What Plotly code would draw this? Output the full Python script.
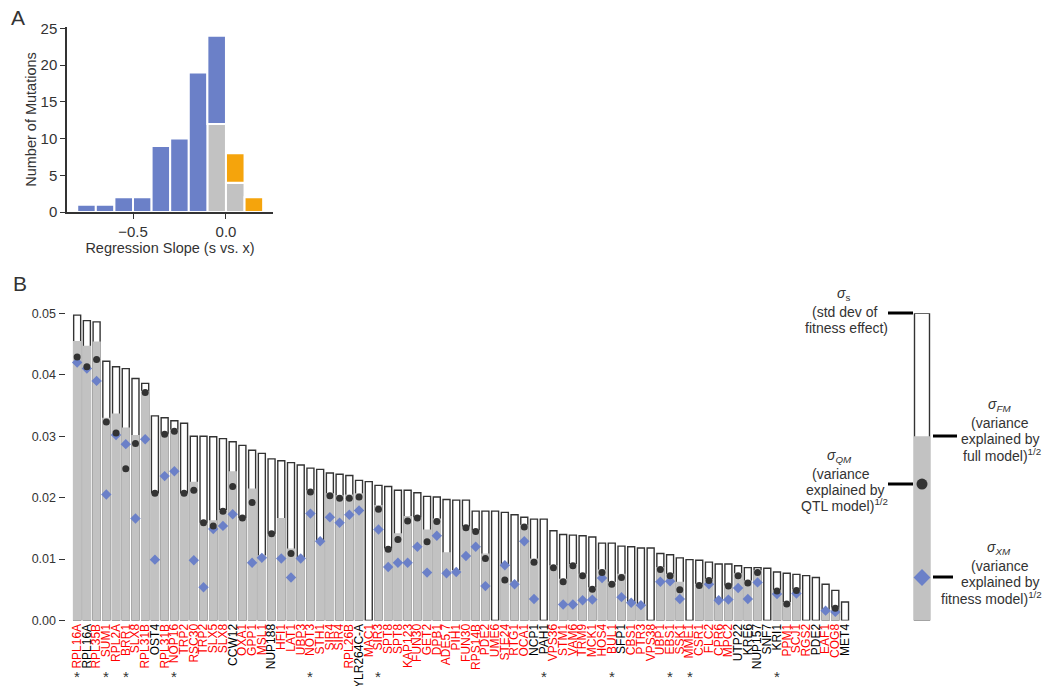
import plotly.graph_objects as go

# ---------------- Panel A data: histogram of regression slopes
slope_bins = [-0.75, -0.65, -0.55, -0.45, -0.35, -0.25, -0.15, -0.05, 0.05, 0.15]
count_blue = [1, 1, 2, 2, 9, 10, 19, 12, 0, 0]
count_gray = [0, 0, 0, 0, 0, 0, 0, 12, 4, 0]
count_orange = [0, 0, 0, 0, 0, 0, 0, 0, 4, 2]

# ---------------- Panel B data: per-mutation variance decomposition
genes = ["RPL16A", "RPL16A", "RPL35B", "SUM1", "RPL2A", "BRR1", "SLX8", "RPL31B", "OST4", "RPL31B",
         "NOP16", "TRP2", "RSC30", "TRP2", "SLX5", "SLX8", "CCW12", "OXA1", "GPP1", "MSL1",
         "NUP188", "HFI1", "LAT1", "UBP3", "NOT3", "STH1", "SIR4", "SIR4", "RPL26B", "YLR264C-A",
         "MAC1", "SIR3", "SPT8", "SPT8", "KAP123", "FUN30", "GET2", "DPB1", "ADE5,7", "PIH1",
         "FUN30", "RPS14B", "PDE2", "UME6", "STE24", "RTG1", "OCA1", "NCP1", "PAH1", "VPS36",
         "STM1", "VAM6", "TRM9", "MCK1", "HOS4", "BUL1", "SFP1", "CBS1", "PTR3", "VPS38",
         "UBP1", "EBS1", "SSK1", "MME1", "CSR1", "FLC2", "CPR6", "MPC2", "UTP22", "KRE6",
         "NUP157", "SNF7", "KRI1", "PPM1", "SCJ1", "RGS2", "PDE2", "EAF1", "COG8", "MET4"]
label_red = [1, 0, 1, 1, 1, 1, 1, 1, 0, 1,
             1, 1, 1, 1, 1, 1, 0, 1, 1, 1,
             0, 1, 1, 1, 1, 1, 1, 1, 1, 0,
             1, 1, 1, 1, 1, 1, 1, 1, 1, 1,
             1, 1, 1, 1, 1, 1, 1, 0, 0, 1,
             1, 1, 1, 1, 1, 1, 0, 1, 1, 1,
             1, 1, 1, 1, 1, 1, 1, 1, 0, 0,
             0, 0, 0, 1, 1, 1, 0, 1, 1, 0]
sigma_s = [.0497, .0488, .0486, .0422, .0413, .0410, .0394, .0386, .0333, .0330,
           .0325, .0321, .0300, .0300, .0299, .0296, .0291, .0285, .0277, .0272,
           .0263, .0260, .0257, .0253, .0248, .0246, .0240, .0238, .0236, .0228,
           .0226, .0220, .0218, .0212, .0212, .0208, .0202, .0201, .0197, .0196,
           .0196, .0178, .0178, .0178, .0176, .0172, .0168, .0165, .0165, .0146,
           .0140, .0139, .0138, .0136, .0126, .0126, .0121, .0120, .0118, .0118,
           .0109, .0107, .0102, .0099, .0098, .0095, .0092, .0092, .0089, .0086,
           .0086, .0085, .0079, .0077, .0075, .0073, .0070, .0059, .0049, .0030]
sigma_fm = [.0455, .0447, .0454, .0330, .0337, .0314, .0302, .0374, .0207, .0304,
            .0311, .0207, .0226, .0159, .0163, .0180, .0243, .0167, .0215, .0106,
            .0141, .0167, .0117, .0101, .0212, .0130, .0207, .0204, .0205, .0207,
            0, .0188, .0117, .0142, .0170, .0168, .0148, .0166, .0111, .0082,
            .0153, .0147, .0109, 0, .0092, .0063, .0156, .0101, 0, .0090,
            .0068, .0092, .0076, .0054, .0083, .0063, .0076, .0030, .0026, 0,
            .0087, .0076, .0063, 0, .0060, .0068, .0033, .0057, .0077, .0065,
            .0082, 0, .0050, .0030, .0051, 0, 0, .0018, .0021, 0]
sigma_qm = [.0429, .0413, .0425, .0323, .0305, .0247, .0288, .0371, .0207, .0303,
            .0308, .0207, .0212, .0159, .0154, .0178, .0218, .0167, .0192, None,
            .0141, None, .0109, None, .0209, None, .0203, .0199, .0199, .0201,
            None, .0181, .0116, .0132, .0162, .0167, .0128, .0161, None, None,
            .0151, .0145, .0101, None, .0066, None, .0152, .0095, None, .0086,
            .0063, .0089, .0073, .0051, .0078, .0059, .0070, None, None, None,
            .0083, .0073, .0050, None, .0057, .0065, None, .0056, .0073, .0061,
            .0078, None, .0048, .0027, .0049, None, None, None, .0020, None]
sigma_xm = [.0420, .0410, .0390, .0205, .0302, .0287, .0166, .0295, .0099, .0235,
            .0243, None, .0098, .0054, .0149, .0154, .0173, None, .0094, .0102,
            None, .0101, .0070, .0101, .0174, .0129, .0168, .0159, .0172, .0179,
            None, .0148, .0087, .0094, .0094, .0120, .0078, .0138, .0077, .0079,
            .0105, .0120, .0056, None, .0090, .0059, .0129, .0035, None, None,
            .0026, .0026, .0033, .0034, .0069, None, .0038, .0029, .0025, None,
            .0063, .0064, .0035, None, None, .0059, .0033, .0034, .0053, .0035,
            .0062, None, .0043, None, .0044, None, None, .0016, .0014, None]
starred = [0, 3, 5, 10, 24, 31, 48, 55, 61, 63, 72]

# legend example values
legend_s, legend_fm, legend_qm, legend_xm = 0.05, 0.03, 0.0222, 0.0070

# page body has an 8px margin, so the figure is drawn 8px smaller and positions are shifted
OFF = 8
W, H = 1050 - OFF, 686 - OFF
BLUE = "#6B80C8"
GRAY = "#C2C2C2"
ORANGE = "#F5A40C"
DARK = "#333333"
FONT = "Liberation Sans, Arial, sans-serif"


def px_x(v):
    return (v - OFF) / W


def px_y(v):
    return 1 - (v - OFF) / H


xs = list(range(len(genes)))
fig = go.Figure()

# Panel A
fig.add_bar(x=slope_bins, y=count_gray, width=0.1, marker=dict(color=GRAY, line=dict(color="white", width=2)),
            xaxis="x", yaxis="y")
fig.add_bar(x=slope_bins, y=count_blue, base=count_gray, width=0.1,
            marker=dict(color=BLUE, line=dict(color="white", width=2)), xaxis="x", yaxis="y")
fig.add_bar(x=slope_bins, y=count_orange, base=count_gray, width=0.1,
            marker=dict(color=ORANGE, line=dict(color="white", width=2)), xaxis="x", yaxis="y")

# Panel B
fig.add_bar(x=xs, y=sigma_s, width=0.72, marker=dict(color="white", line=dict(color=DARK, width=1.4)),
            xaxis="x2", yaxis="y2")
fig.add_bar(x=xs, y=sigma_fm, width=0.86, marker=dict(color=GRAY, line=dict(width=0)),
            xaxis="x2", yaxis="y2")
fig.add_scatter(x=xs, y=sigma_xm, mode="markers", marker=dict(symbol="diamond", size=8, color=BLUE),
                xaxis="x2", yaxis="y2")
fig.add_scatter(x=xs, y=sigma_qm, mode="markers", marker=dict(symbol="circle", size=7, color=DARK),
                xaxis="x2", yaxis="y2")

# Legend bar (drawn on same y scale)
fig.add_bar(x=[0], y=[legend_s], width=1.0, marker=dict(color="white", line=dict(color=DARK, width=1.4)),
            xaxis="x3", yaxis="y2")
fig.add_bar(x=[0], y=[legend_fm], width=1.1, marker=dict(color=GRAY, line=dict(width=0)),
            xaxis="x3", yaxis="y2")
fig.add_scatter(x=[0], y=[legend_qm], mode="markers", marker=dict(symbol="circle", size=11, color=DARK),
                xaxis="x3", yaxis="y2")
fig.add_scatter(x=[0], y=[legend_xm], mode="markers", marker=dict(symbol="diamond", size=13, color=BLUE),
                xaxis="x3", yaxis="y2")

ticktext = ['<span style="color:%s">%s</span>' % ("#FF0000" if r else "#000000", g)
            for g, r in zip(genes, label_red)]

fig.update_layout(
    width=W, height=H, margin=dict(l=0, r=0, t=0, b=0, autoexpand=False),
    plot_bgcolor="white", paper_bgcolor="white", showlegend=False,
    barmode="overlay", font=dict(family=FONT, color=DARK, size=14),
    xaxis=dict(domain=[px_x(67), px_x(273)], range=[-0.855, 0.253], tickvals=[-0.5, 0.0], tickformat=".1f",
               ticks="outside", ticklen=5, tickcolor=DARK, showline=True, linecolor=DARK, linewidth=1.5,
               title=dict(text="Regression Slope (s vs. x)", font=dict(size=14.5), standoff=2),
               tickfont=dict(size=15, color=DARK), showgrid=False, zeroline=False,
               automargin=False, anchor="y"),
    yaxis=dict(domain=[px_y(212), px_y(27)], range=[0, 25.2], dtick=5, ticks="outside", ticklen=5,
               tickcolor=DARK, showline=True, linecolor=DARK, linewidth=1.5,
               title=dict(text="Number of Mutations", font=dict(size=14.5), standoff=0),
               tickfont=dict(size=15, color=DARK), showgrid=False, zeroline=False,
               automargin=False, anchor="x"),
    xaxis2=dict(domain=[px_x(65.5), px_x(849.9)], range=[-1.2, 79.5], tickvals=xs, ticktext=ticktext,
                tickangle=-90, ticks="", showline=False, anchor="y2", automargin=False,
                showgrid=False, zeroline=False, tickfont=dict(size=12)),
    yaxis2=dict(domain=[px_y(620.5), px_y(313.3)], range=[0, 0.05],
                tickvals=[0, 0.01, 0.02, 0.03, 0.04, 0.05], tickformat=".2f",
                ticks="outside", ticklen=6, tickcolor=DARK, showline=False, anchor="x2",
                tickfont=dict(size=12.5, color=DARK), showgrid=False, zeroline=False, automargin=False),
    xaxis3=dict(domain=[px_x(907), px_x(937)], range=[-1, 1], visible=False, anchor="y2", automargin=False),
)

# legend texts, one line each: (text, center x px, center y px)
legend_lines = [
    ("<i>σ</i><sub>s</sub>", 843, 294),
    ("(std dev of", 844, 312),
    ("fitness effect)", 846, 328),
    ("<i>σ</i><sub><i>FM</i></sub>", 999, 405),
    ("(variance", 1000, 423),
    ("explained by", 1000, 439),
    ("full model)<sup>1/2</sup>", 1002, 455),
    ("<i>σ</i><sub><i>QM</i></sub>", 839, 456),
    ("(variance", 841, 474),
    ("explained by", 845, 490),
    ("QTL model)<sup>1/2</sup>", 844, 505),
    ("<i>σ</i><sub><i>XM</i></sub>", 999, 548),
    ("(variance", 1000, 566),
    ("explained by", 1000, 582),
    ("fitness model)<sup>1/2</sup>", 991, 598),
]
annotations = [
    dict(text="A", x=px_x(18), y=px_y(18), font=dict(size=21, color=DARK)),
    dict(text="B", x=px_x(20), y=px_y(283), font=dict(size=21, color=DARK)),
]
for t, x, y in legend_lines:
    annotations.append(dict(text=t, x=px_x(x), y=px_y(y), font=dict(size=14, color=DARK)))
for a in annotations:
    a.update(xref="paper", yref="paper", showarrow=False, xanchor="center", yanchor="middle")
for i in starred:
    annotations.append(dict(text="*", x=i, xref="x2", y=px_y(676), yref="paper", showarrow=False,
                            xanchor="center", yanchor="middle", font=dict(size=15, color=DARK)))
fig.update_layout(annotations=annotations)

# legend dashes
for x0, x1, y in [(888, 913, 313), (933, 957, 436), (888, 913, 484), (933, 953, 577)]:
    fig.add_shape(type="line", xref="paper", yref="paper", x0=px_x(x0), x1=px_x(x1), y0=px_y(y), y1=px_y(y),
                  line=dict(color="black", width=3))

fig.write_html("out.html")
